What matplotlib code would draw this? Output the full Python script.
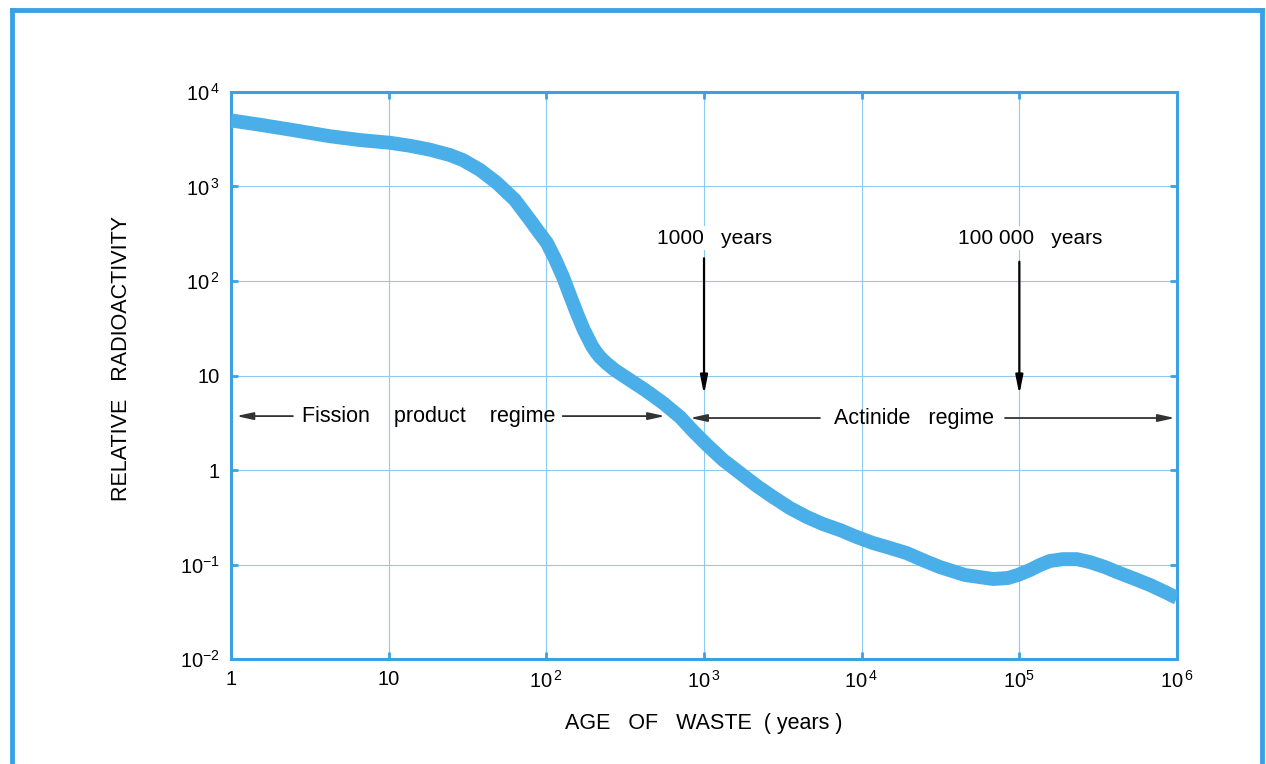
import matplotlib
matplotlib.use('Agg')
import matplotlib.pyplot as plt
from matplotlib.lines import Line2D

plt.rcParams['font.family'] = ['Liberation Sans', 'DejaVu Sans']
plt.rcParams['mathtext.default'] = 'regular'

# curve: age (years) vs relative radioactivity
age = [1, 1.53, 2.37, 4.25, 6.58, 10.2, 13.6, 18.3, 24.5, 29.6, 37.9, 48.6,
       63.2, 78.7, 88.5, 101, 113.5, 127.6, 141, 156, 173, 183.7, 194.7,
       206.5, 218.8, 238.9, 272, 339, 423, 550, 704, 851, 1045, 1319, 1690,
       2167, 2737, 3506, 4495, 5680, 7274, 9330, 11780, 15080, 19330, 25170,
       31350, 45150, 68040, 84720, 98000, 116900, 135300, 156300, 189100,
       232100, 280600, 349300, 416000, 541600, 674500, 839500, 1e6]
activity = [5000, 4500, 4000, 3400, 3100, 2900, 2700, 2450, 2150, 1900, 1500,
            1090, 720, 443, 338, 252, 171, 110, 71, 45.8, 30.3, 24.9, 20.5,
            17.7, 15.7, 13.6, 11.4, 8.95, 7.02, 5.12, 3.64, 2.59, 1.84, 1.28,
            0.93, 0.677, 0.518, 0.396, 0.318, 0.268, 0.232, 0.195, 0.169,
            0.150, 0.132, 0.109, 0.094, 0.0775, 0.0703, 0.0720, 0.0775,
            0.0875, 0.0989, 0.109, 0.114, 0.114, 0.106, 0.094, 0.0833, 0.0703,
            0.0607, 0.0512, 0.0443]

x_ticks = [1, 10, 1e2, 1e3, 1e4, 1e5, 1e6]
x_labels = ['1', '10', r'$10^{\,2}$', r'$10^{\,3}$', r'$10^{\,4}$', r'$10^{5}$', r'$10^{\,6}$']
y_ticks = [1e-2, 1e-1, 1, 10, 1e2, 1e3, 1e4]
y_labels = [r'$10^{-2}$', r'$10^{-1}$', '1', '10', r'$10^{\,2}$', r'$10^{\,3}$', r'$10^{\,4}$']

BLUE = '#3ba1e3'
CURVE = '#4aafe8'
GRID = '#8ccaef'

fig = plt.figure(figsize=(12.66, 7.64), dpi=100)
ax = fig.add_axes([0.1825, 0.1374, 0.7472, 0.7422])

ax.plot(age, activity, color=CURVE, lw=10, solid_capstyle='butt',
        solid_joinstyle='round', zorder=3)

ax.set_xscale('log')
ax.set_yscale('log')
ax.set_xlim(1, 1e6)
ax.set_ylim(1e-2, 1e4)
ax.set_xticks(x_ticks)
ax.set_xticklabels(x_labels)
ax.set_yticks(y_ticks)
ax.set_yticklabels(y_labels)
ax.minorticks_off()
ax.tick_params(axis='both', which='major', direction='in', length=5, width=2,
               color=BLUE, labelsize=14.5, top=True, right=True, pad=8)
ax.grid(True, color=GRID, lw=0.8, zorder=0)
for s in ax.spines.values():
    s.set_color(BLUE)
    s.set_linewidth(2.2)

ax.set_xlabel('AGE   OF   WASTE  ( years )', fontsize=15.5, labelpad=15)
ax.set_ylabel('RELATIVE   RADIOACTIVITY', fontsize=15.5)
ax.yaxis.set_label_coords(-0.105, 0.53)

# regime labels with arrows
arrow_kw = dict(arrowstyle='-|>,head_length=1.0,head_width=0.22', color='#333333',
                lw=1.3, shrinkA=0, shrinkB=0)
y_reg = 3.72
ax.text(18, y_reg, 'Fission    product    regime', fontsize=15.5, ha='center', va='center')
ax.annotate('', xy=(1.08, y_reg), xytext=(2.47, y_reg), arrowprops=arrow_kw)
ax.annotate('', xy=(566, y_reg), xytext=(127, y_reg), arrowprops=arrow_kw)

y_act = 3.55
ax.text(21400, y_act, 'Actinide   regime', fontsize=15.5, ha='center', va='center')
ax.annotate('', xy=(815, y_act), xytext=(5440, y_act), arrowprops=arrow_kw)
ax.annotate('', xy=(9.7e5, y_act), xytext=(81100, y_act), arrowprops=arrow_kw)

# milestone markers
down_kw = dict(arrowstyle='-|>,head_length=1.1,head_width=0.22', color='black',
               lw=1.6, shrinkA=0, shrinkB=0)
ax.text(1170, 285, '1000   years', fontsize=15, ha='center', va='center',
        bbox=dict(fc='white', ec='none', pad=2))
ax.annotate('', xy=(1000, 6.3), xytext=(1000, 174), arrowprops=down_kw)
ax.text(118000, 285, '100 000   years', fontsize=15, ha='center', va='center',
        bbox=dict(fc='white', ec='none', pad=2))
ax.annotate('', xy=(1.0e5, 6.3), xytext=(1.0e5, 160), arrowprops=down_kw)

# blue page border: top, left and right
for xs, ys in [([12 / 1266, 1262 / 1266], [1 - 10 / 764, 1 - 10 / 764]),
               ([12 / 1266, 12 / 1266], [1 - 10 / 764, 0]),
               ([1262 / 1266, 1262 / 1266], [1 - 10 / 764, 0])]:
    fig.add_artist(Line2D(xs, ys, color=BLUE, lw=3.5, transform=fig.transFigure))

fig.savefig('out.png', dpi=100)
